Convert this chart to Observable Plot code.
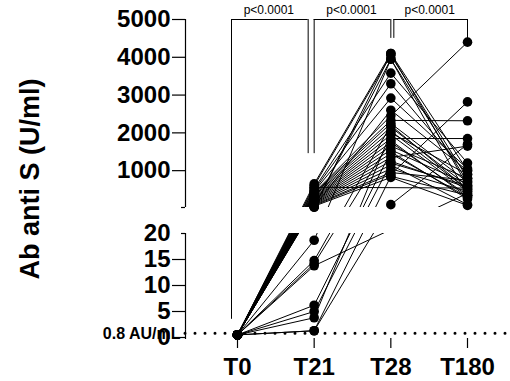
<!DOCTYPE html>
<html>
<head>
<meta charset="utf-8">
<script src="https://cdn.jsdelivr.net/npm/d3@7"></script>
<script src="https://cdn.jsdelivr.net/npm/@observablehq/plot@0.6"></script>
<style>
  html, body { margin: 0; padding: 0; background: white; }
  #chart { width: 510px; height: 381px; }
</style>
</head>
<body>
<div id="chart"></div>
<script>
// Time points (x categories)
const times = ["T0", "T21", "T28", "T180"];

// Antibody values per subject (same order in every array); null = not measured
const valT0 = [0.5, 0.5, 0.5, 0.5, 0.5, 0.5, 0.5, 0.5, 0.5, 0.5, 0.5, 0.5,
               0.5, 0.5, 0.5, 0.5, 0.5, 0.5, 0.5, 0.5, 0.5, 0.5, 0.5, 0.5,
               0.5, 0.5, 0.5, 0.5, 0.5, 0.5, 0.5, 0.5, 0.5, 0.5, 0.5, 0.5];
const valT21 = [18.7, 14.8, 14.2, 13.8, 6.2, 5.0, 3.8, 1.3, 1.3,
                650, 600, 560, 520, 480, 450, 420, 400, 380, 350, 330, 300, 280, 260,
                240, 220, 200, 180, 160, 140, 120, 100, 80, 60, 50, 40, 30];
const valT28 = [3950, 2200, 1800, null, 1500, 1200, 2000, 850, 100,
                4100, 4050, null, 3580, 3300, 2920, 2450, 2330, 2250, 2150, 2050, 1950, 1850, 1750,
                1650, 1550, 1450, 1350, 1250, 1150, 1050, 950, 900, 820, 2600, 3950, 4100];
const valT180 = [700, 500, 300, 400, 250, 600, 900, 350, 1700,
                 1000, 800, 540, 1200, 900, 1050, 4400, 2320, 700, 600, 500, 450, 1850, 350,
                 800, 650, 300, 1650, 550, 100, 450, 750, 2820, 80, 1000, 350, 600];

// Axis ticks
const yTicksMain = [0, 5, 10, 15, 1000, 2000, 3000, 4000, 5000];
const yTickBreakLow = [20];
const yTickBreakHigh = [25];
const threshold = [0.8];
const thresholdLabel = "0.8 AU/mL";
const yLabel = "Ab anti S (U/ml)";

// Significance brackets
const bracketFrom = ["T0", "T21", "T28"];
const bracketTo = ["T21", "T28", "T180"];
const bracketLegFrom = [3.5, 1450, 4500];
const bracketLegTo = [1450, 4500, 4400];
const bracketLabels = ["p<0.0001", "p<0.0001", "p<0.0001"];
const bracketTop = 5000;

// Long table for lines & dots
const series = [valT0, valT21, valT28, valT180];
const long = [];
valT0.forEach((_, id) => {
  series.forEach((arr, t) => {
    if (arr[id] != null) long.push({id, t, v: arr[id]});
  });
});

const brackets = bracketFrom.map((f, i) => ({
  a: times.indexOf(f), b: times.indexOf(bracketTo[i]),
  ya: bracketLegFrom[i], yb: bracketLegTo[i], label: bracketLabels[i]
}));

function bracketMarks(d, dxA, dxB) {
  return [
    Plot.ruleX([d], {x: "a", y1: "ya", y2: bracketTop, dx: dxA, stroke: "black", strokeWidth: 1}),
    Plot.ruleX([d], {x: "b", y1: "yb", y2: bracketTop, dx: dxB, stroke: "black", strokeWidth: 1}),
    Plot.ruleY([d], {y: bracketTop, x1: "a", x2: "b", dx: dxB, insetLeft: dxA - dxB, stroke: "black", strokeWidth: 1}),
    Plot.text([d], {x: (e) => (e.a + e.b) / 2, y: bracketTop, dy: -9, dx: (dxA + dxB) / 2 - 1,
      text: "label", fontSize: 12, fontWeight: "normal", fill: "black"})
  ];
}

const chart = Plot.plot({
  width: 510,
  height: 381,
  marginLeft: 185,
  marginRight: 4,
  marginTop: 19,
  marginBottom: 43,
  style: {
    fontFamily: "'Liberation Sans', Arial, Helvetica, sans-serif",
    fontSize: "24px",
    fontWeight: "bold",
    color: "black",
    background: "white",
    overflow: "visible"
  },
  x: {type: "linear", domain: [0, 3], range: [237, 467], label: null},
  y: {type: "linear", domain: [0, 20, 25, 5000], range: [337, 233, 207, 19], label: null},
  marks: [
    Plot.frame({anchor: "left", stroke: "black", strokeWidth: 1.2}),
    Plot.line(long, {x: "t", y: "v", z: "id", stroke: "black", strokeWidth: 1}),
    // axis break (gap between the two segments)
    Plot.rect([0], {y1: yTickBreakLow[0], y2: yTickBreakHigh[0], fill: "white", insetLeft: -4}),
    Plot.ruleY(threshold, {stroke: "black", strokeWidth: 3, strokeDasharray: "0,10", strokeLinecap: "round"}),
    Plot.dot(long, {x: "t", y: "v", r: 4.8, fill: "black", stroke: "none"}),
    Plot.axisY(yTicksMain, {tickSize: 13, tickPadding: 2, label: null, tickFormat: (d) => String(d), strokeWidth: 1.2}),
    Plot.axisY(yTickBreakLow, {tickSize: 4, tickPadding: 11, label: null, tickFormat: (d) => String(d), strokeWidth: 1.2}),
    Plot.axisY(yTickBreakHigh, {tickSize: 4, label: null, tickFormat: () => "", strokeWidth: 1.2}),
    Plot.axisX([0, 1, 2, 3], {tickSize: 10, tickPadding: 9, label: null, tickFormat: (i) => times[i], strokeWidth: 1.2}),
    Plot.text(threshold, {y: (d) => d, text: () => thresholdLabel, frameAnchor: "left", textAnchor: "end",
      dx: -5, dy: 1, fontSize: 16, fontWeight: "bold", fill: "black"}),
    Plot.text([yLabel], {frameAnchor: "left", textAnchor: "middle", dx: -155, rotate: -90,
      fontSize: 27, fontWeight: "bold", fill: "black"}),
    ...bracketMarks(brackets[0], -6, -6),
    ...bracketMarks(brackets[1], 0, 0),
    ...bracketMarks(brackets[2], 3, 0)
  ]
});

document.getElementById("chart").appendChild(chart);
</script>
</body>
</html>
